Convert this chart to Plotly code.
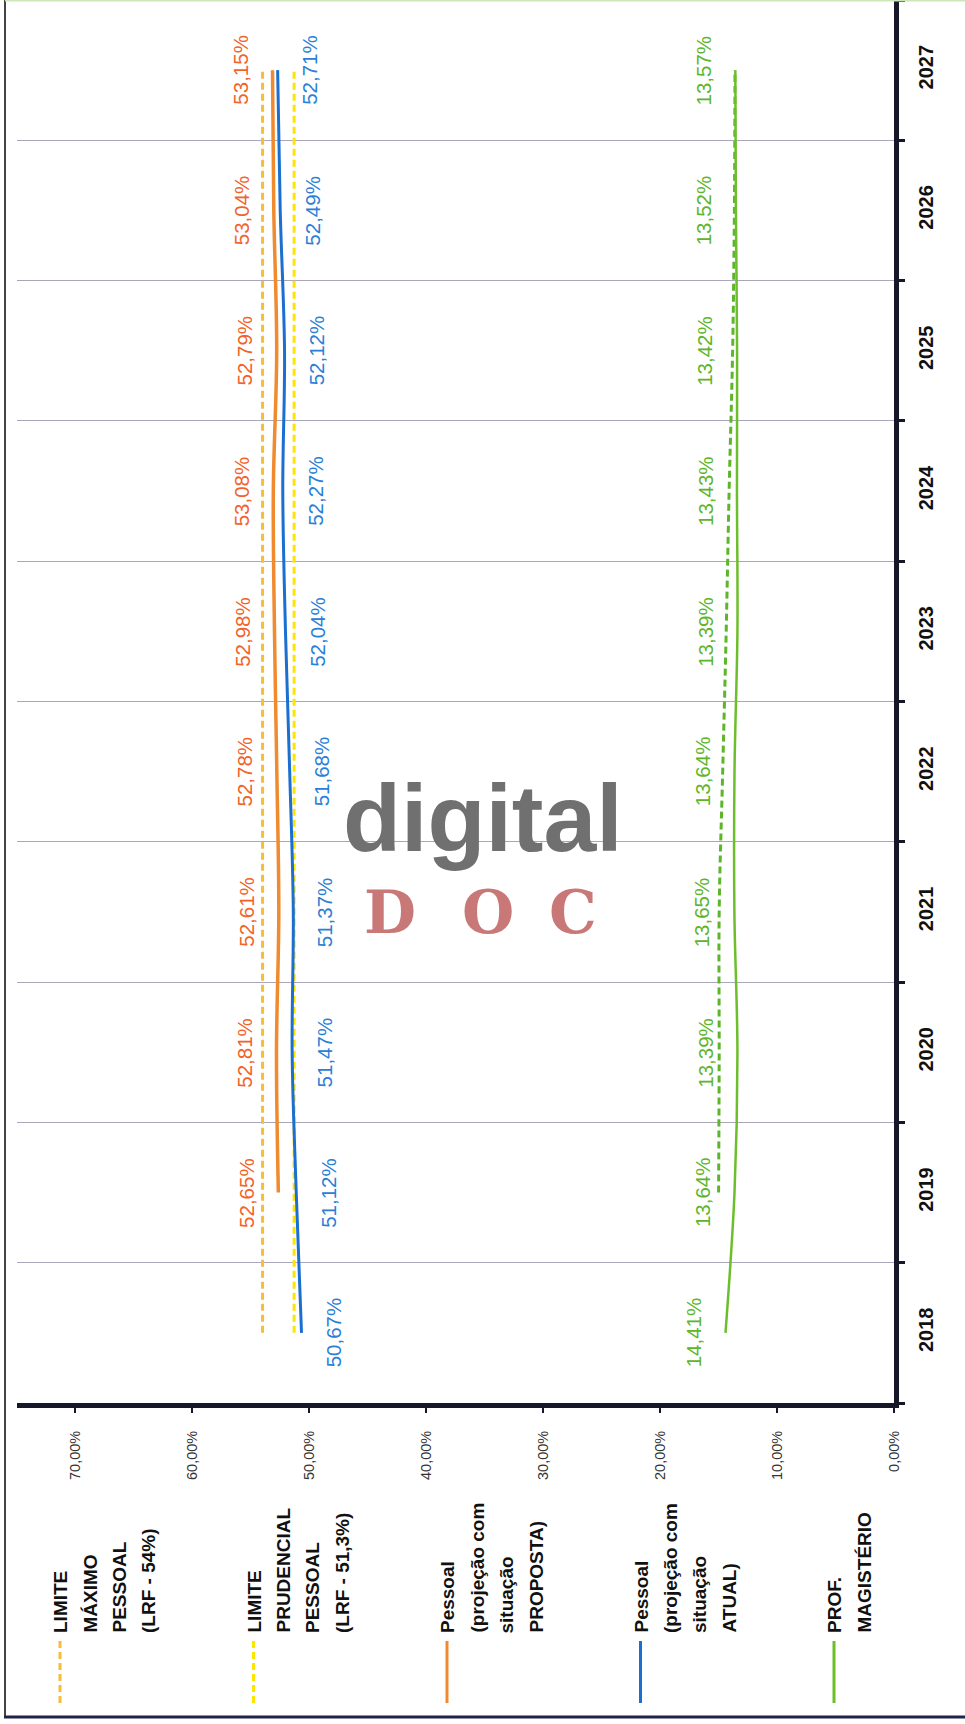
import plotly.graph_objects as go

# ---------------- data ----------------
anos = ["2018", "2019", "2020", "2021", "2022", "2023", "2024", "2025", "2026", "2027"]
limite_maximo = [54.0, 54.0, 54.0, 54.0, 54.0, 54.0, 54.0, 54.0, 54.0, 54.0]
limite_prudencial = [51.3, 51.3, 51.3, 51.3, 51.3, 51.3, 51.3, 51.3, 51.3, 51.3]
pessoal_proposta = [None, 52.65, 52.81, 52.61, 52.78, 52.98, 53.08, 52.79, 53.04, 53.15]
pessoal_atual = [50.67, 51.12, 51.47, 51.37, 51.68, 52.04, 52.27, 52.12, 52.49, 52.71]
prof_magisterio = [14.41, 13.64, 13.39, 13.65, 13.64, 13.39, 13.43, 13.42, 13.52, 13.57]
magisterio_tracejado = [None, 15.0, 14.95, 14.95, 14.65, 14.35, 14.1, 13.8, 13.65, 13.6]

eixo_valores = [0, 10, 20, 30, 40, 50, 60, 70]
eixo_rotulos = ["0,00%", "10,00%", "20,00%", "30,00%", "40,00%", "50,00%", "60,00%", "70,00%"]

legenda = [
    (["LIMITE", "MÁXIMO", "PESSOAL", "(LRF - 54%)"], "#F6BC3C", "7px,4px"),
    (["LIMITE", "PRUDENCIAL", "PESSOAL", "(LRF - 51,3%)"], "#FFE400", "7px,4px"),
    (["Pessoal", "(projeção com", "situação", "PROPOSTA)"], "#F08A2E", "solid"),
    (["Pessoal", "(projeção com", "situação", "ATUAL)"], "#1B6FD0", "solid"),
    (["PROF.", "MAGISTÉRIO"], "#6DBE2C", "solid"),
]

# ---------------- style ----------------
SANS = "Liberation Sans, Arial, sans-serif"
C_MAX = "#F6BC3C"
C_PRU = "#FFE400"
C_PROP = "#F08A2E"
C_ATU = "#1B6FD0"
C_MAG = "#6DBE2C"
LBL_PROP = "#F2622A"
LBL_ATU = "#2A80D6"
LBL_MAG = "#5DB52A"
AXIS = "#17172a"

W, H = 965, 1724
ML, MR, MT, MB = 17, 71, 0, 321
PW = W - ML - MR
PH = H - MT - MB


def px(xp):
    return (xp - ML) / PW


def py(yp):
    return (MT + PH - yp) / PH


def fmt(v):
    return f"{v:.2f}".replace(".", ",") + "%"


fig = go.Figure()

fig.add_trace(go.Scatter(x=limite_maximo, y=anos, mode="lines",
                         line=dict(color=C_MAX, width=3, dash="7px,4px"), hoverinfo="skip"))
fig.add_trace(go.Scatter(x=limite_prudencial, y=anos, mode="lines",
                         line=dict(color=C_PRU, width=3, dash="7px,4px"), hoverinfo="skip"))
fig.add_trace(go.Scatter(x=pessoal_proposta, y=anos, mode="lines",
                         line=dict(color=C_PROP, width=3.5, shape="spline"), hoverinfo="skip"))
fig.add_trace(go.Scatter(x=pessoal_atual, y=anos, mode="lines",
                         line=dict(color=C_ATU, width=3, shape="spline"), hoverinfo="skip"))
fig.add_trace(go.Scatter(x=magisterio_tracejado, y=anos, mode="lines",
                         line=dict(color="#5DB52A", width=3, dash="7px,4px", shape="spline"),
                         hoverinfo="skip"))
fig.add_trace(go.Scatter(x=prof_magisterio, y=anos, mode="lines",
                         line=dict(color=C_MAG, width=2.5, shape="spline"), hoverinfo="skip"))

annotations = []
for serie, cor, shift in [(pessoal_proposta, LBL_PROP, -32),
                          (pessoal_atual, LBL_ATU, 32),
                          (prof_magisterio, LBL_MAG, -32)]:
    for idx, v in enumerate(serie):
        if v is None:
            continue
        annotations.append(dict(x=v, y=idx, xref="x", yref="y", text=fmt(v),
                                textangle=-90, xshift=shift, showarrow=False,
                                font=dict(family=SANS, size=20.5, color=cor)))

# legend (rotated)
col0 = 60
col_step = 193.5
line_step = 29.5
text_bottom = 1635
for i, (linhas, cor, dash) in enumerate(legenda):
    cx = col0 + i * col_step
    for j, t in enumerate(linhas):
        annotations.append(dict(x=px(cx + j * line_step), y=py(text_bottom), xref="paper", yref="paper",
                                xanchor="center", yanchor="bottom", text="<b>" + t + "</b>",
                                textangle=-90, showarrow=False,
                                font=dict(family=SANS, size=19, color="#111111")))

# watermark
annotations.append(dict(x=px(483), y=py(818), xref="paper", yref="paper", text="<b>digital</b>",
                        showarrow=False, xanchor="center", yanchor="middle",
                        font=dict(family=SANS, size=95, color="#707070")))
for letra, lx in [("D", 390), ("O", 488), ("C", 573)]:
    annotations.append(dict(x=px(lx), y=py(912), xref="paper", yref="paper", text="<b>" + letra + "</b>",
                            showarrow=False, xanchor="center", yanchor="middle",
                            font=dict(family="DejaVu Serif, Liberation Serif, serif", size=60,
                                      color="#c97878")))

shapes = []
for i, (linhas, cor, dash) in enumerate(legenda):
    cx = col0 + i * col_step
    shapes.append(dict(type="line", xref="paper", yref="paper", x0=px(cx), x1=px(cx),
                       y0=py(1641), y1=py(1703), line=dict(color=cor, width=3, dash=dash)))
# frame
shapes.append(dict(type="line", xref="paper", yref="paper", x0=px(5), x1=px(5), y0=py(0), y1=py(1718),
                   line=dict(color="#444444", width=2)))
shapes.append(dict(type="line", xref="paper", yref="paper", x0=px(4), x1=px(965), y0=py(1717), y1=py(1717),
                   line=dict(color="#22224a", width=3)))
shapes.append(dict(type="line", xref="paper", yref="paper", x0=px(5), x1=px(965), y0=py(0.5), y1=py(0.5),
                   line=dict(color="#cfe6b8", width=2)))

fig.update_layout(
    width=W, height=H,
    margin=dict(l=ML, r=MR, t=MT, b=MB, pad=0),
    paper_bgcolor="white", plot_bgcolor="white",
    showlegend=False,
    annotations=annotations,
    shapes=shapes,
    xaxis=dict(range=[75, 0], tickvals=eixo_valores, ticktext=eixo_rotulos, tickangle=-90,
               ticks="outside", ticklen=5, tickwidth=2, tickcolor=AXIS,
               showline=True, linewidth=5, linecolor=AXIS, showgrid=False, zeroline=False,
               ticklabelstandoff=12,
               tickfont=dict(family=SANS, size=14.5, color="#333333")),
    yaxis=dict(type="category", categoryorder="array", categoryarray=anos,
               range=[-0.5, 9.5], side="right", tickson="boundaries",
               ticks="outside", ticklen=6, tickwidth=3, tickcolor=AXIS,
               showline=True, linewidth=5, linecolor=AXIS,
               showgrid=True, gridcolor="#aaa6ba", gridwidth=1, zeroline=False,
               tickangle=-90, ticklabelstandoff=10,
               tickfont=dict(family=SANS, size=20, color="#111111", weight="bold")),
)

fig.write_html("out.html", config={"displayModeBar": False},
               post_script="document.body.style.margin='0';")
